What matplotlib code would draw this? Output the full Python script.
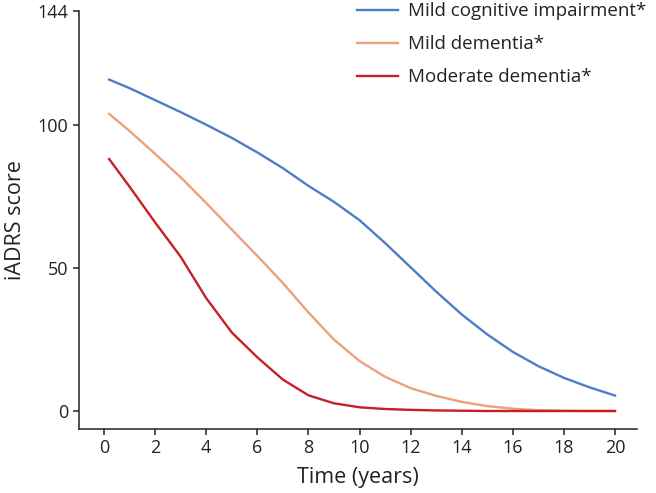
import matplotlib
matplotlib.use('Agg')
import matplotlib.pyplot as plt

plt.rcParams['font.family'] = ['Open Sans', 'DejaVu Sans']

# values
years = [0.2, 1, 2, 3, 4, 5, 6, 7, 8, 9, 10, 11, 12, 13, 14, 15, 16, 17, 18, 19, 20]
mci = [116, 113, 108.8, 104.6, 100.2, 95.6, 90.5, 85, 78.8, 73.2, 66.8, 58.8, 50.3, 41.8,
       33.8, 26.8, 20.7, 15.7, 11.6, 8.3, 5.4]
mild = [104, 98, 90, 81.8, 72.8, 63.5, 54.3, 44.8, 34.5, 25, 17.5, 12, 8, 5.3, 3.2,
        1.7, 0.8, 0.3, 0.1, 0, 0]
moderate = [88.2, 78.5, 66, 54, 39.5, 27.5, 18.8, 11, 5.5, 2.7, 1.3, 0.7, 0.4, 0.2, 0.1,
            0, 0, 0, 0, 0, 0]

labels = ['Mild cognitive impairment*', 'Mild dementia*', 'Moderate dementia*']
colors = ['#4d7cc9', '#eda07c', '#c81e28']

xticks = list(range(0, 21, 2))
yticks = [0, 50, 100, 144]
ytop = 140  # the 144 tick sits at the top of the axis in the original

fig = plt.figure(figsize=(6.56, 4.93), dpi=100)
ax = fig.add_axes([0.1204, 0.1298, 0.8506, 0.8479])

for series, lab, col in zip([mci, mild, moderate], labels, colors):
    ax.plot(years, series, color=col, lw=1.7, label=lab, solid_joinstyle='round')

ax.set_xlim(-0.98, 20.86)
ax.set_ylim(-6.3, ytop)
ax.set_xticks(xticks)
ax.set_yticks(yticks[:-1] + [ytop])
ax.set_yticklabels([str(v) for v in yticks])

for s in ['top', 'right']:
    ax.spines[s].set_visible(False)
for s in ['left', 'bottom']:
    ax.spines[s].set_linewidth(1.1)
    ax.spines[s].set_color('#222222')
ax.tick_params(direction='out', length=4.5, width=1.1, color='#222222',
               labelsize=13, labelcolor='#222222', pad=3)

ax.set_xlabel('Time (years)', fontsize=15.5, color='#222222', labelpad=7)
ax.set_ylabel('iADRS score', fontsize=15.5, color='#222222', labelpad=8)

fig.legend(loc='upper left', bbox_to_anchor=(0.519, 1.03), frameon=False,
           fontsize=13.5, handlelength=2.15, handletextpad=0.55, labelspacing=0.8,
           labelcolor='#222222')

fig.savefig('out.png', dpi=100)
